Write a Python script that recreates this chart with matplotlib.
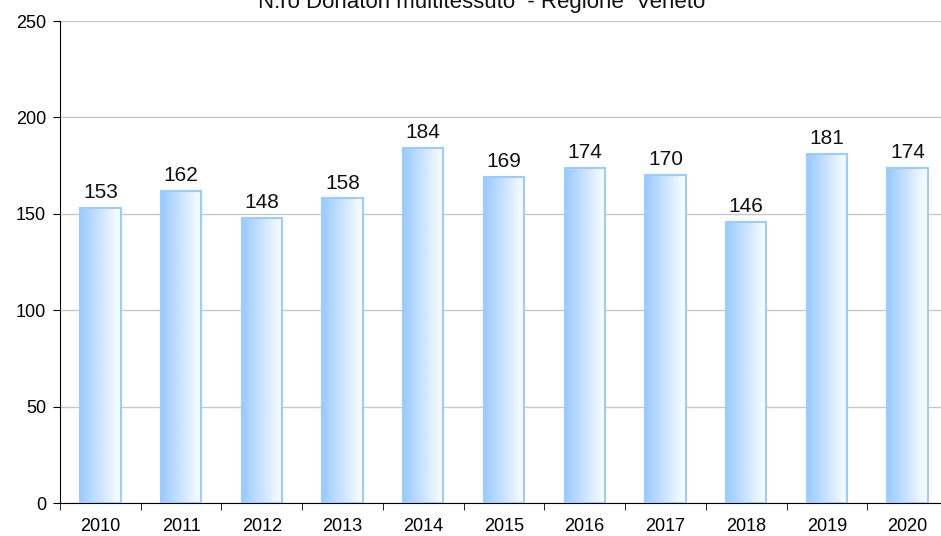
import matplotlib
matplotlib.use("Agg")
import matplotlib.pyplot as plt
import numpy as np
from matplotlib.patches import Rectangle

years = ["2010", "2011", "2012", "2013", "2014", "2015", "2016", "2017", "2018", "2019", "2020"]
values = [153, 162, 148, 158, 184, 169, 174, 170, 146, 181, 174]
yticks = [0, 50, 100, 150, 200, 250]
title = "N.ro Donatori multitessuto  - Regione  Veneto"

plt.rcParams['font.family'] = ['Liberation Sans', 'DejaVu Sans']

W, H = 941, 536
fig = plt.figure(figsize=(W / 100, H / 100), dpi=100)
ax = fig.add_axes([60 / W, 33 / H, 888 / W, 482 / H])

x = np.arange(len(years))
bw = 0.5
grad = np.linspace(0, 1, 256).reshape(1, -1)
c0 = np.array([0.60, 0.79, 1.0])
c1 = np.array([1.0, 1.0, 1.0])
img = c0[None, None, :] * (1 - grad[..., None]) + c1[None, None, :] * grad[..., None]

for xi, v in zip(x, values):
    rect = Rectangle((xi - bw / 2, 0), bw, v, facecolor='none', edgecolor='#99ccff', linewidth=1.5, zorder=3)
    ax.add_patch(rect)
    im = ax.imshow(img, extent=[xi - bw / 2, xi + bw / 2, 0, v], aspect='auto', zorder=2, interpolation='bilinear')
    im.set_clip_path(rect)
    ax.text(xi, v + 3, str(v), ha='center', va='bottom', fontsize=15, color='#111111', zorder=4)

ax.set_xlim(-0.5, len(years) - 0.5)
ax.set_ylim(0, 250)
ax.set_yticks(yticks)
ax.set_yticklabels([str(t) for t in yticks], fontsize=13)
ax.set_xticks(x)
ax.set_xticklabels(years, fontsize=13)
ax.tick_params(axis='x', length=0, pad=11)
ax.set_xticks(np.arange(-0.5, len(years)), minor=True)
ax.tick_params(axis='x', which='minor', length=5, direction='out', color='black')
ax.tick_params(axis='y', length=5, direction='out', pad=5)
ax.yaxis.grid(True, color='#c8c8c8', linewidth=1)
ax.set_axisbelow(True)
for s in ['top', 'right']:
    ax.spines[s].set_visible(False)
ax.spines['left'].set_color('black')
ax.spines['bottom'].set_color('black')

fig.text(482 / W, (H - 8) / H, title, ha='center', va='baseline', fontsize=16, color='#111111')

fig.savefig("out.png", dpi=100)
